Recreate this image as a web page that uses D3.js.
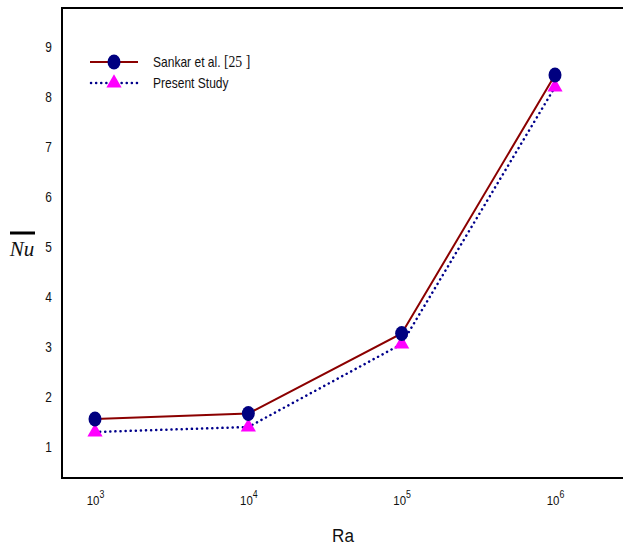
<!DOCTYPE html>
<html>
<head>
<meta charset="utf-8">
<script src="https://cdn.jsdelivr.net/npm/d3@7/dist/d3.min.js"></script>
<style>
  html, body { margin: 0; padding: 0; background: #fff; }
  svg { display: block; }
  .lbl { font-family: "Liberation Sans Narrow", "Liberation Sans", Arial, sans-serif; fill: #111; }
</style>
</head>
<body>
<svg id="chart" width="623" height="548"></svg>
<script>
// Rayleigh number exponents (Ra = 10^k)
const raExponents = [3, 4, 5, 6];
// Average Nusselt number
const sankarNu = [1.56, 1.67, 3.27, 8.44];
const presentNu = [1.30, 1.40, 3.06, 8.20];
const yTicks = [1, 2, 3, 4, 5, 6, 7, 8, 9];
const seriesNames = ["Sankar et al.", "Present Study"];

const svg = d3.select("#chart");
const frame = { left: 62, top: 8, bottom: 478, right: 640 };

const x = d3.scaleLog().domain([1e3, 1e6]).range([95, 555]);
const y = d3.scaleLinear().domain([1, 9]).range([447, 47]);

// plot frame (right edge runs past the canvas)
svg.append("rect")
  .attr("x", frame.left).attr("y", frame.top)
  .attr("width", frame.right - frame.left).attr("height", frame.bottom - frame.top)
  .attr("fill", "none").attr("stroke", "#000").attr("stroke-width", 2);

// condensed text helper: narrow the glyphs horizontally around an anchor x
function narrow(sel, ax, k) {
  sel.attr("transform", `translate(${ax},0) scale(${k},1) translate(${-ax},0)`);
}

// y axis labels only
const yAxis = d3.axisLeft(y).tickValues(yTicks).tickSize(0).tickPadding(0).tickFormat(d3.format("d"));
const gy = svg.append("g").attr("transform", "translate(52,0)").call(yAxis);
gy.select(".domain").remove();
gy.selectAll("text").attr("class", "lbl").style("font-size", "14px").attr("dy", "0.35em")
  .attr("transform", "scale(0.85,1)");

// x axis labels with superscript exponents
const xAxis = d3.axisBottom(x).tickValues(raExponents.map(k => Math.pow(10, k))).tickSize(0).tickFormat("");
const gx = svg.append("g").attr("transform", "translate(0,505)").call(xAxis);
gx.select(".domain").remove();
gx.selectAll(".tick").each(function (d) {
  const t = d3.select(this).append("text").attr("class", "lbl").attr("text-anchor", "middle")
    .attr("fill", "#111").style("font-size", "13px").attr("y", 0).attr("transform", "scale(0.88,1)");
  t.append("tspan").text("10");
  t.append("tspan").attr("dy", "-7").style("font-size", "10px").text(Math.round(Math.log10(d)));
});

// axis titles
svg.append("text").attr("class", "lbl").attr("x", 343).attr("y", 542)
  .attr("text-anchor", "middle").style("font-size", "19px").text("Ra")
  .call(narrow, 343, 0.9);
svg.append("text").attr("x", 22).attr("y", 256).attr("text-anchor", "middle")
  .style("font-family", "'Liberation Serif', 'DejaVu Serif', serif").style("font-style", "italic")
  .style("font-size", "21px").attr("fill", "#111").text("Nu");
svg.append("line").attr("x1", 10).attr("x2", 35).attr("y1", 233).attr("y2", 233)
  .attr("stroke", "#000").attr("stroke-width", 3);

const ptsS = raExponents.map((k, i) => [Math.pow(10, k), sankarNu[i]]);
const ptsP = raExponents.map((k, i) => [Math.pow(10, k), presentNu[i]]);
const line = d3.line().x(d => x(d[0])).y(d => y(d[1]));

svg.append("path").attr("d", line(ptsP)).attr("fill", "none")
  .attr("stroke", "#00008b").attr("stroke-width", 2.5)
  .attr("stroke-dasharray", "0.1 5").attr("stroke-linecap", "round");
svg.append("path").attr("d", line(ptsS)).attr("fill", "none")
  .attr("stroke", "#8b0000").attr("stroke-width", 2);

const tri = d3.symbol().type(d3.symbolTriangle).size(100);
svg.selectAll(".tri").data(ptsP).join("path").attr("class", "tri")
  .attr("d", tri).attr("transform", d => `translate(${x(d[0])},${y(d[1])})`)
  .attr("fill", "#ff00ff");
svg.selectAll(".dot").data(ptsS).join("ellipse").attr("class", "dot")
  .attr("cx", d => x(d[0])).attr("cy", d => y(d[1])).attr("rx", 6.5).attr("ry", 7.5)
  .attr("fill", "#000080");

// legend
const lg = svg.append("g");
lg.append("line").attr("x1", 90).attr("x2", 138).attr("y1", 62).attr("y2", 62)
  .attr("stroke", "#8b0000").attr("stroke-width", 2);
lg.append("ellipse").attr("cx", 114).attr("cy", 62).attr("rx", 6.5).attr("ry", 7.5).attr("fill", "#000080");
lg.append("line").attr("x1", 91).attr("x2", 137).attr("y1", 83).attr("y2", 83)
  .attr("stroke", "#00008b").attr("stroke-width", 2.5)
  .attr("stroke-dasharray", "0.1 5").attr("stroke-linecap", "round");
lg.append("path").attr("d", tri).attr("transform", "translate(114,83)").attr("fill", "#ff00ff");

const t1 = lg.append("text").attr("class", "lbl").attr("x", 153).attr("y", 67).style("font-size", "14px")
  .call(narrow, 153, 0.86);
t1.append("tspan").text(seriesNames[0] + "  ");
t1.append("tspan").style("font-family", "'Liberation Serif', serif").style("font-size", "16px").text("[25 ]");
lg.append("text").attr("class", "lbl").attr("x", 153).attr("y", 88).style("font-size", "14px")
  .text(seriesNames[1]).call(narrow, 153, 0.86);
</script>
</body>
</html>
